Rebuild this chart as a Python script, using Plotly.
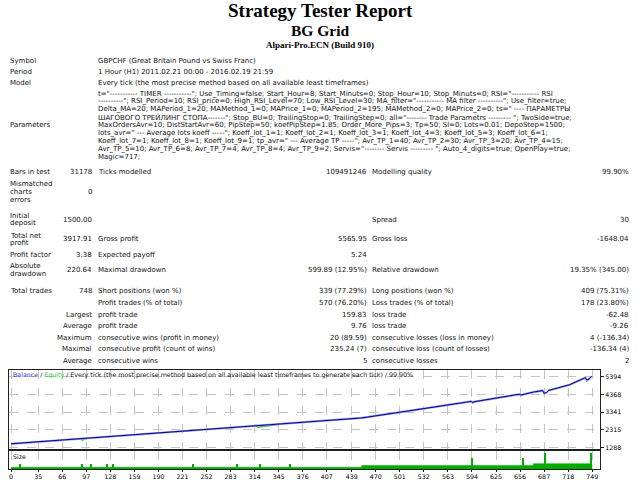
import plotly.graph_objects as go

W, H = 640, 480

# ---------------- data ----------------
title_lines = ["Strategy Tester Report", "BG Grid", "Alpari-Pro.ECN (Build 910)"]

symbol_text = "GBPCHF (Great Britain Pound vs Swiss Franc)"
period_text = "1 Hour (H1) 2011.02.21 00:00 - 2016.02.19 21:59"
model_text = "Every tick (the most precise method based on all available least timeframes)"

param_lines = [
    't="----------- TIMER -----------"; Use_Timing=false; Start_Hour=8; Start_Minuts=0; Stop_Hour=10; Stop_Minuts=0; RSI="----------- RSI',
    '----------"; RSI_Period=10; RSI_price=0; High_RSI_Level=70; Low_RSI_Level=30; MA_filter="----------- MA filter ----------"; Use_filter=true;',
    'Delta_MA=20; MAPeriod_1=20; MAMethod_1=0; MAPrice_1=0; MAPeriod_2=195; MAMethod_2=0; MAPrice_2=0; ts=" ---- ПАРАМЕТРЫ',
    'ШАГОВОГО ТРЕЙЛИНГ СТОПА-------"; Stop_BU=0; TrailingStop=0; TrailingStep=0; all="-------- Trade Parametrs --------- "; TwoSide=true;',
    'MaxOrdersAvr=10; DistStartAvr=60; PipStep=50; koefPipStep=1.85; Order_More_Pips=3; Tp=50; Sl=0; Lots=0.01; DepoStep=1500;',
    'lots_avr=" --- Average lots koeff -----"; Koeff_lot_1=1; Koeff_lot_2=1; Koeff_lot_3=1; Koeff_lot_4=3; Koeff_lot_5=3; Koeff_lot_6=1;',
    'Koeff_lot_7=1; Koeff_lot_8=1; Koeff_lot_9=1; tp_avr=" --- Average TP -----"; Avr_TP_1=40; Avr_TP_2=30; Avr_TP_3=20; Avr_TP_4=15;',
    'Avr_TP_5=10; Avr_TP_6=8; Avr_TP_7=4; Avr_TP_8=4; Avr_TP_9=2; Servis="-------- Servis --------- "; Auto_4_digits=true; OpenPlay=true;',
    'Magic=717;',
]

# statistics rows: (label lines, value1, label2, value2, label3, value3)
stat_rows = [
    (["Bars in test"], "31178", "Ticks modelled", "109491246", "Modelling quality", "99.90%"),
    (["Mismatched", "charts", "errors"], "0", "", "", "", ""),
    (["Initial", "deposit"], "1500.00", "", "", "Spread", "30"),
    (["Total net", "profit"], "3917.91", "Gross profit", "5565.95", "Gross loss", "-1648.04"),
    (["Profit factor"], "3.38", "Expected payoff", "5.24", "", ""),
    (["Absolute", "drawdown"], "220.64", "Maximal drawdown", "599.89 (12.95%)", "Relative drawdown", "19.35% (345.00)"),
    (["Total trades"], "748", "Short positions (won %)", "339 (77.29%)", "Long positions (won %)", "409 (75.31%)"),
]
trade_rows = [
    ("", "Profit trades (% of total)", "570 (76.20%)", "Loss trades (% of total)", "178 (23.80%)"),
    ("Largest", "profit trade", "159.83", "loss trade", "-62.48"),
    ("Average", "profit trade", "9.76", "loss trade", "-9.26"),
    ("Maximum", "consecutive wins (profit in money)", "20 (89.59)", "consecutive losses (loss in money)", "4 (-136.34)"),
    ("Maximal", "consecutive profit (count of wins)", "235.24 (7)", "consecutive loss (count of losses)", "-136.34 (4)"),
    ("Average", "consecutive wins", "5", "consecutive losses", "2"),
]

# balance curve (trade number, balance)
bal_trades = [0, 12, 50, 90, 92, 95, 100, 150, 200, 250, 300, 316, 350, 400, 452, 500, 550, 593,
              595, 598, 650, 655, 657, 660, 673, 685, 687, 690, 693, 720, 740, 742, 745, 748]
bal_values = [1500, 1540, 1665, 1800, 1770, 1790, 1830, 1995, 2160, 2330, 2495, 2550, 2665, 2830,
              3000, 3325, 3665, 3960, 3910, 3950, 4340, 4375, 4330, 4370, 4500, 4590, 4440, 4470,
              4600, 4930, 5340, 5200, 5260, 5418]
eq_trades = [0, 12, 50, 90, 92, 95, 100, 150, 200, 250, 300, 316, 318, 350, 400, 452, 500, 550, 593,
             595, 598, 650, 655, 657, 660, 673, 685, 687, 690, 693, 720, 740, 742, 745, 748]
eq_values = [1500, 1540, 1665, 1800, 1700, 1790, 1830, 1995, 2160, 2330, 2495, 2550, 2460, 2665, 2830,
             3000, 3325, 3665, 3960, 3860, 3950, 4340, 4375, 4290, 4370, 4500, 4590, 4400, 4470,
             4600, 4930, 5340, 5150, 5260, 5418]

# lot sizes
size_step_trades = [0, 452, 673, 749]
size_step_lots = [0.01, 0.02, 0.03, 0.03]
spike_trades = [11, 91, 92, 103, 124, 132, 234, 291, 321, 360, 594, 660, 688, 748]
spike_lots = [0.03, 0.03, 0.03, 0.03, 0.03, 0.03, 0.03, 0.03, 0.03, 0.03, 0.06, 0.06, 0.09, 0.09]

x_ticks = [0, 35, 66, 97, 128, 159, 190, 221, 252, 283, 314, 345, 376, 407, 439, 470, 501,
           532, 563, 594, 625, 656, 687, 718, 749]
y_ticks = [1288, 2315, 3341, 4368, 5394]

# ---------------- helpers ----------------
def px(x):
    return x / W

def py(y):
    return 1 - y / H

BODY = "DejaVu Sans"
FS = 7
TXT_COLOR = "#111111"
annotations = []

def txt(x, y, s, anchor="left", size=FS, family=BODY, color=TXT_COLOR):
    annotations.append(dict(x=px(x), y=py(y), xref="paper", yref="paper", text=s,
                            showarrow=False, xanchor=anchor, yanchor="middle", borderpad=0,
                            font=dict(family=family, size=size, color=color)))

# titles
SERIF = "Liberation Serif"
txt(320, 11, "<b>%s</b>" % title_lines[0], "center", 19, SERIF, "#000000")
txt(320, 31, "<b>%s</b>" % title_lines[1], "center", 15.5, SERIF, "#000000")
txt(320, 45.5, "<b>%s</b>" % title_lines[2], "center", 9, SERIF, "#000000")

C1, V1R, C2, V2R, C3, V3R = 9, 93, 97, 368, 371, 630

txt(C1, 61, "Symbol"); txt(C2, 61, symbol_text)
txt(C1, 72, "Period"); txt(C2, 72, period_text)
txt(C1, 83, "Model"); txt(C2, 83, model_text)

p0, pstep = 94, 7.9
for i, line in enumerate(param_lines):
    txt(C2, p0 + i * pstep, line)
txt(C1, p0 + 4 * pstep, "Parameters")

row_y = [173, 193, 220.5, 240.5, 256, 271.5, 292]
for (labels, v1, l2, v2, l3, v3), yc in zip(stat_rows, row_y):
    n = len(labels)
    for j, lab in enumerate(labels):
        txt(C1, yc + (j - (n - 1) / 2) * 7.8, lab)
    if v1: txt(V1R, yc, v1, "right")
    if l2: txt(C2, yc, l2)
    if v2: txt(V2R, yc, v2, "right")
    if l3: txt(C3, yc, l3)
    if v3: txt(V3R, yc, v3, "right")

ty = [304.5, 316, 327.5, 339, 350.7, 362.3]
for (pre, l2, v2, l3, v3), yc in zip(trade_rows, ty):
    if pre: txt(V1R, yc, pre, "right")
    txt(C2, yc, l2)
    txt(V2R, yc, v2, "right")
    txt(C3, yc, l3)
    txt(V3R, yc, v3, "right")

# chart captions
txt(12, 377, '<span style="color:#3535c8">Balance</span> / <span style="color:#30c830">Equity</span> / '
    'Every tick (the most precise method based on all available least timeframes to generate each tick) / 99.90%',
    size=6.3)
txt(12, 458, "Size", size=6.3)

# ---------------- figure ----------------
fig = go.Figure()
fig.add_trace(go.Scatter(x=eq_trades, y=eq_values, mode="lines",
                         line=dict(color="#2ec82e", width=1.4), xaxis="x", yaxis="y", hoverinfo="skip"))
fig.add_trace(go.Scatter(x=bal_trades, y=bal_values, mode="lines",
                         line=dict(color="#a4a4ea", width=2.2), xaxis="x", yaxis="y", hoverinfo="skip"))
fig.add_trace(go.Scatter(x=bal_trades, y=bal_values, mode="lines",
                         line=dict(color="#000090", width=1.0), xaxis="x", yaxis="y", hoverinfo="skip"))
fig.add_trace(go.Scatter(x=size_step_trades, y=size_step_lots, mode="lines", line_shape="hv",
                         fill="tozeroy", fillcolor="#00aa00", line=dict(color="#00aa00", width=0.5),
                         xaxis="x2", yaxis="y2", hoverinfo="skip"))
fig.add_trace(go.Bar(x=spike_trades, y=spike_lots, width=1.3, marker=dict(color="#00b000", line_width=0),
                     xaxis="x2", yaxis="y2", hoverinfo="skip"))

XD = [px(9), px(600)]
XR = [-2.6, 759]
grid = dict(showgrid=True, gridcolor="#c4c4c4", griddash="dash", gridwidth=1)
fig.update_layout(
    width=W, height=H, margin=dict(l=0, r=0, t=0, b=0),
    paper_bgcolor="white", plot_bgcolor="white", showlegend=False, bargap=0,
    annotations=annotations,
    xaxis=dict(domain=XD, range=XR, tickvals=x_ticks, showticklabels=False, ticks="",
               showline=True, mirror=True, linecolor="#202020", linewidth=1, zeroline=False, **grid),
    yaxis=dict(domain=[py(451), py(372)], range=[1190, 5758], tickvals=y_ticks, side="right",
               ticks="outside", ticklen=3, tickcolor="#202020",
               tickfont=dict(family=BODY, size=6.3, color="#000000"),
               showline=True, mirror=True, linecolor="#202020", linewidth=1, zeroline=False, **grid),
    xaxis2=dict(domain=XD, range=XR, tickvals=x_ticks, ticktext=[str(v) for v in x_ticks],
                ticks="outside", ticklen=2, tickcolor="#202020", anchor="y2", ticklabelstandoff=-1,
                tickfont=dict(family=BODY, size=6.3, color="#000000"),
                showline=True, mirror=True, linecolor="#202020", linewidth=1, zeroline=False, **grid),
    yaxis2=dict(domain=[py(471), py(453)], range=[0, 0.1], anchor="x2", showticklabels=False,
                showgrid=False, ticks="", showline=True, mirror=True, linecolor="#202020",
                linewidth=1, zeroline=False),
)

fig.write_html("out.html", config={"displayModeBar": False},
               post_script="document.body.style.margin='0';document.body.style.overflow='hidden';")
